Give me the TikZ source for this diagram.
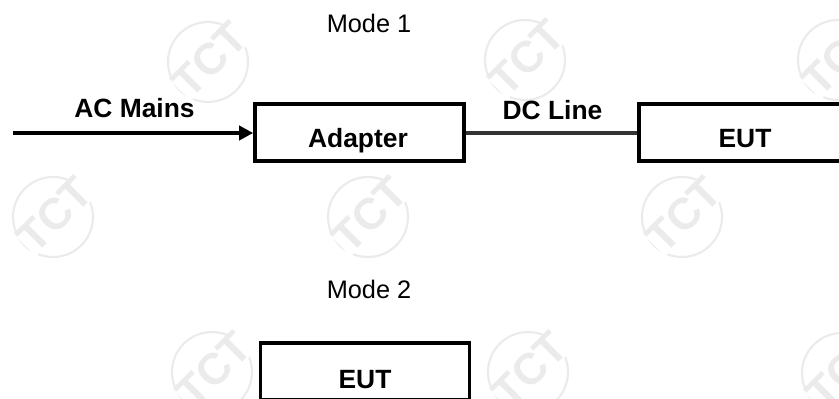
\documentclass[tikz,border=0pt]{standalone}
\usepackage{fontspec}
\setmainfont{Liberation Sans}
\usetikzlibrary{arrows.meta}
\definecolor{stampgrey}{HTML}{EBEBEB}
\definecolor{linegrey}{HTML}{333333}
\tikzstyle{unitbox} = [rectangle,
minimum width=156.75pt,
minimum height=42.75pt,
line width=2.7pt,
draw=black,
fill=white]
\tikzstyle{boxtext} = [font=\fontsize{19.8}{22}\selectfont\bfseries, inner sep=0pt, anchor=base]
\tikzstyle{modetext} = [font=\fontsize{19}{22}\selectfont, inner sep=0pt, anchor=base]
\tikzstyle{stampring} = [circle, draw=stampgrey, line width=1.6pt, minimum size=60pt, inner sep=0pt]
\tikzstyle{stamptext} = [font=\fontsize{33}{34}\selectfont\bfseries, text=stampgrey, fill=white, inner sep=0pt, rotate=45]
\tikzstyle{arrow} = [line width=2.8pt,-{Triangle[length=10.5pt,width=10.5pt]}]
\tikzstyle{wire} = [line width=2.8pt, draw=linegrey]

\begin{document}
\begin{tikzpicture}[x=0.75pt,y=-0.75pt]
    \path[use as bounding box, clip] (0,0) rectangle (839,399);
    % stamps in the background
    \foreach \px/\py [count=\n] in {208/62, 525/60, 838/60, 53/217, 368/217, 682/217, 212/372, 528/372, 842/373} {
        \node (ring\n) [stampring] at (\px,\py) {};
        \node (stamp\n) [stamptext] at ([shift={(2,-2)}]ring\n.center) {TCT};
    }

    \node (modeone) [modetext] at (369,32.5) {Mode 1};
    \node (adapter) [unitbox] at (359.5,132.5) {};
    \node (adaptertext) [boxtext] at (358,147.3) {Adapter};
    \node (eutone) [unitbox] at (743.5,132.5) {};
    \node (euttextone) [boxtext] at (745,147.3) {EUT};
    \node (acmains) [boxtext] at (134.5,117.3) {AC Mains};
    \node (dcline) [boxtext] at (552.5,119.6) {DC Line};
    \coordinate (acin) at (13,133);

    \node (modetwo) [modetext] at (369,298) {Mode 2};
    \node (euttwo) [unitbox] at (365,371.5) {};
    \node (euttexttwo) [boxtext] at (365,388.8) {EUT};

    \draw [arrow] (acin) -- (acin -| adapter.west);
    \draw [wire] (adapter.east |- acin) -- (eutone.west |- acin);
\end{tikzpicture}
\end{document}
